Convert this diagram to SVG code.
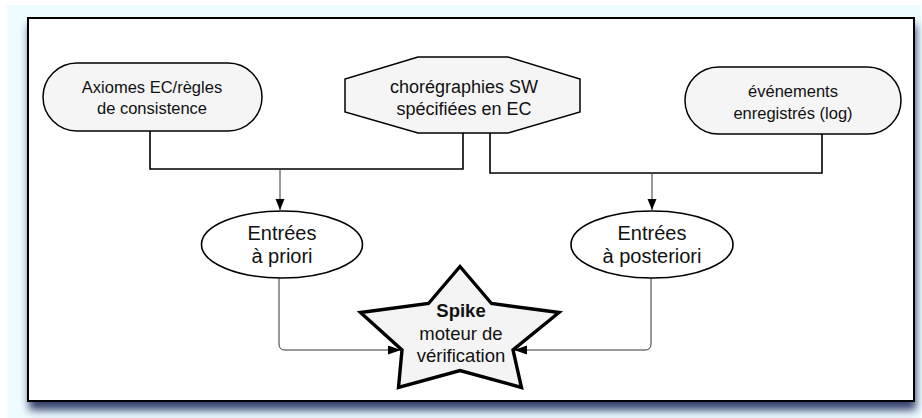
<svg xmlns="http://www.w3.org/2000/svg" width="922" height="418" viewBox="0 0 922 418">
<defs>
<style>
text{font-family:"Liberation Sans",Arial,Helvetica,sans-serif;fill:#111;text-anchor:middle}
.node{fill:#f5f5f5;stroke:#000;stroke-width:1.5}
.ell{fill:#fff;stroke:#000;stroke-width:1.6}
.star{fill:#f4f4f4;stroke:#000;stroke-width:3.4;stroke-linejoin:miter}
.thick{fill:none;stroke:#000;stroke-width:1.6}
.thin{fill:none;stroke:#333;stroke-width:1}
.s16{font-size:16.5px}
.s18{font-size:18px}
.s20{font-size:20px}
.s185{font-size:18.5px}
</style>
<filter id="sh" x="-5%" y="-10%" width="110%" height="125%">
<feGaussianBlur stdDeviation="4"/>
</filter>
<marker id="ah" markerUnits="userSpaceOnUse" markerWidth="12" markerHeight="10" refX="11" refY="4.5" orient="auto">
<path d="M0,0 L11,4.5 L0,9 z" fill="#000"/>
</marker>
<marker id="ah2" markerUnits="userSpaceOnUse" markerWidth="14" markerHeight="10" refX="13" refY="4.5" orient="auto">
<path d="M0,0 L13,4.5 L0,9 z" fill="#000"/>
</marker>
</defs>
<rect x="7" y="5" width="914" height="413" fill="#eefcff"/>
<rect x="29" y="25" width="887" height="385" fill="#1e2c5c" opacity="0.9" filter="url(#sh)"/>
<rect x="28" y="18" width="886" height="383" fill="#fff" stroke="#000" stroke-width="2"/>

<g id="connectors">
<path class="thick" d="M150,131 V169 H463 V133"/>
<path class="thick" d="M490,133 V173 H822 V134"/>
<path class="thin" d="M280,169 V210" marker-end="url(#ah)"/>
<path class="thin" d="M652,173 V210" marker-end="url(#ah)"/>
<path class="thin" d="M279,278 V344 Q279,350 285,350 H401" marker-end="url(#ah2)"/>
<path class="thin" d="M651,278 V344 Q651,350 645,350 H514" marker-end="url(#ah2)"/>
</g>

<g id="axiomes">
<rect class="node" x="43" y="63" width="219" height="68" rx="34" ry="34"/>
<text class="s16" x="152" y="93">Axiomes EC/règles</text>
<text class="s16" x="152" y="114">de consistence</text>
</g>

<g id="choregraphies">
<polygon class="node" points="418,57 508,57 580,79 580,112 508,133 418,133 345,112 345,79"/>
<text class="s18" x="464" y="93">chorégraphies SW</text>
<text class="s18" x="464" y="115">spécifiées en EC</text>
</g>

<g id="evenements">
<rect class="node" x="685" y="67" width="216" height="67" rx="33.5" ry="33.5"/>
<text class="s16" x="793" y="97">événements</text>
<text class="s16" x="793" y="119">enregistrés (log)</text>
</g>

<g id="apriori">
<ellipse class="ell" cx="282" cy="244.5" rx="80.5" ry="33.5"/>
<text class="s20" x="282" y="240">Entrées</text>
<text class="s20" x="282" y="263">à priori</text>
</g>

<g id="aposteriori">
<ellipse class="ell" cx="652" cy="244.5" rx="81" ry="33.5"/>
<text class="s20" x="652" y="240">Entrées</text>
<text class="s20" x="652" y="263">à posteriori</text>
</g>

<g id="spike">
<polygon class="star" points="460,266.5 491.5,303.5 559,312.5 513,350 521.5,387.5 460,370.5 398.5,387.5 402,350 360.5,312.5 428.5,303.5"/>
<text class="s185" x="461" y="317" font-weight="bold">Spike</text>
<text class="s185" x="461" y="340">moteur de</text>
<text class="s185" x="461" y="362">vérification</text>
</g>
</svg>
